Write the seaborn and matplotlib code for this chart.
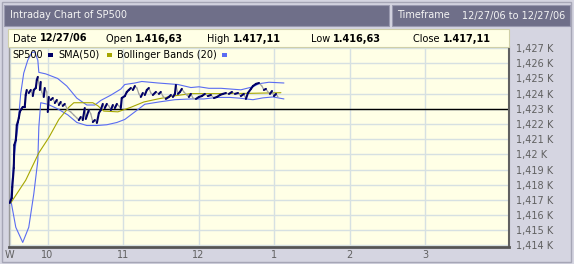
import numpy as np
import pandas as pd
import matplotlib
matplotlib.use("Agg")
import matplotlib.pyplot as plt
import seaborn as sns
from matplotlib.patches import Rectangle

# ---------------- data ----------------
# minutes after 9:30 and SP500 price
price_min = [0.0, 0.8, 1.6, 2.0, 3.2, 3.6, 4.8, 5.6, 6.4, 7.2, 8.0, 8.7, 10.3, 11.9,
             12.7, 13.5, 15.1, 16.7, 18.3, 19.1, 20.7, 21.5, 22.3, 23.1, 23.9, 24.6,
             25.4, 27.0, 27.8, 29.4, 30.2, 31.0, 32.6, 34.2, 35.8, 37.4, 39.0, 40.5,
             42.1, 43.7, 46.1, 48.5, 50.9, 53.3, 54.9, 56.4, 58.0, 59.6, 60.4, 62.8,
             64.4, 66.0, 67.6, 69.2, 70.8, 72.3, 73.9, 75.5, 77.1, 78.7, 80.3, 81.9,
             83.5, 85.1, 86.7, 88.2, 89.0, 91.4, 93.0, 94.6, 96.2, 97.8, 99.4, 101.0,
             102.6, 104.1, 105.7, 107.3, 108.9, 110.5, 112.1, 113.7, 116.1, 118.5,
             120.0, 121.6, 124.0, 126.4, 128.0, 129.6, 131.2, 132.0, 133.6, 135.2,
             136.7, 138.3, 140.7, 142.3, 143.9, 145.5, 147.9, 150.3, 152.6, 155.0,
             157.4, 159.8, 162.2, 164.6, 167.0, 169.3, 171.7, 174.1, 176.5, 178.9,
             181.3, 183.6, 186.0, 187.6, 189.2, 191.6, 193.2, 195.6, 198.0, 200.3,
             201.9, 203.5, 205.1, 206.7, 208.3, 209.9, 211.5, 213.1]
price_val = [1416.80, 1416.99, 1417.12, 1417.85, 1419.10, 1420.61, 1420.94, 1421.93,
             1422.13, 1422.40, 1422.79, 1422.92, 1423.12, 1423.12, 1423.91, 1424.24,
             1424.04, 1424.24, 1423.84, 1424.24, 1424.37, 1424.90, 1425.10, 1424.70,
             1424.24, 1424.77, 1424.11, 1423.78, 1424.37, 1424.11, 1422.79, 1423.78,
             1423.58, 1423.71, 1423.38, 1423.58, 1423.25, 1423.45, 1423.19, 1423.32,
             1422.92, 1422.79, 1422.59, 1422.40, 1422.26, 1422.46, 1422.26, 1423.05,
             1422.33, 1422.92, 1422.66, 1422.13, 1422.26, 1422.07, 1422.72, 1422.92,
             1423.32, 1423.05, 1423.32, 1423.19, 1422.92, 1423.25, 1423.05, 1423.32,
             1423.19, 1423.05, 1423.71, 1423.84, 1424.11, 1424.24, 1424.37, 1424.24,
             1424.50, 1424.37, 1423.98, 1423.78, 1424.04, 1423.91, 1424.24, 1424.37,
             1424.04, 1423.91, 1424.11, 1423.98, 1424.11, 1423.84, 1423.65, 1423.78,
             1423.91, 1423.78, 1423.98, 1424.57, 1423.98, 1424.11, 1424.31, 1424.11,
             1423.91, 1423.78, 1423.98, 1423.71, 1423.65, 1423.78, 1423.84, 1423.98,
             1423.84, 1423.91, 1423.71, 1423.78, 1423.91, 1423.98, 1424.04, 1423.98,
             1424.11, 1423.98, 1424.04, 1423.84, 1423.98, 1423.65, 1424.04, 1424.31,
             1424.50, 1424.64, 1424.70, 1424.50, 1424.24, 1424.31, 1424.11, 1423.98,
             1424.17, 1423.84, 1423.98, 1423.78]

sma_min = [0.8, 12.7, 23.1, 31.0, 39.0, 46.9, 50.9, 66.0, 70.0, 74.7, 85.9, 96.2,
           106.5, 117.7, 130.4, 143.9, 167.8, 191.6, 215.4]
sma_val = [1416.80, 1418.30, 1420.10, 1421.10, 1422.30, 1423.10, 1423.40, 1423.40,
           1423.20, 1422.85, 1422.80, 1423.10, 1423.45, 1423.65, 1423.85, 1424.00,
           1424.00, 1424.02, 1424.06]

bb_up_min = [0.8, 3.2, 6.4, 8.7, 11.1, 14.3, 17.5, 19.9, 22.3, 23.1, 28.6, 38.0,
             45.3, 53.3, 61.2, 67.6, 72.3, 80.3, 88.2, 91.4, 99.4, 104.9, 117.7,
             133.6, 143.9, 150.3, 158.2, 167.8, 175.7, 183.6, 193.2, 197.9, 205.9, 217.8]
bb_up_val = [1417.00, 1419.60, 1421.80, 1424.00, 1425.35, 1426.20, 1426.70, 1426.75,
             1426.20, 1425.40, 1425.30, 1425.00, 1424.50, 1423.70, 1423.25, 1423.25,
             1423.55, 1423.90, 1424.30, 1424.60, 1424.70, 1424.80, 1424.70, 1424.60,
             1424.40, 1424.45, 1424.35, 1424.35, 1424.30, 1424.25, 1424.45, 1424.65,
             1424.75, 1424.70]
bb_lo_min = [0.8, 4.8, 10.3, 15.1, 19.1, 22.3, 23.1, 24.6, 30.2, 38.0, 46.1, 53.3,
             61.2, 69.2, 77.1, 85.1, 91.4, 99.4, 107.3, 118.5, 131.2, 143.9, 154.2,
             164.6, 174.9, 182.8, 187.6, 193.2, 201.1, 209.1, 217.8]
bb_lo_val = [1417.00, 1415.20, 1414.20, 1415.20, 1417.40, 1419.60, 1421.80, 1423.40,
             1423.30, 1423.00, 1422.60, 1422.10, 1421.90, 1421.90, 1421.95, 1422.10,
             1422.30, 1422.80, 1423.30, 1423.45, 1423.60, 1423.65, 1423.65, 1423.75,
             1423.75, 1423.70, 1423.65, 1423.60, 1423.72, 1423.78, 1423.65]

ref_level = 1423.0
y_ticks = [1414, 1415, 1416, 1417, 1418, 1419, 1420, 1421, 1422, 1423, 1424, 1425, 1426, 1427]
y_tick_labels = ["1,414 K", "1,415 K", "1,416 K", "1,417 K", "1,418 K", "1,419 K", "1,42 K",
                 "1,421 K", "1,422 K", "1,423 K", "1,424 K", "1,425 K", "1,426 K", "1,427 K"]
x_ticks = [9.5, 10, 11, 12, 13, 14, 15]
x_tick_labels = ["W", "10", "11", "12", "1", "2", "3"]

title_text = "Intraday Chart of SP500"
timeframe_label = "Timeframe"
timeframe_text = "12/27/06 to 12/27/06"
info_labels = ["Date", "Open", "High", "Low", "Close"]
info_values = ["12/27/06", "1.416,63", "1.417,11", "1.416,63", "1.417,11"]
legend_labels = ["SP500", "SMA(50)", "Bollinger Bands (20)"]

# ---------------- style ----------------
BG = "#d5d5e1"
BAR = "#6f6f89"
CREAM = "#ffffe6"
NAVY = "#000066"
GRAYLINE = "#a0a0a0"
OLIVE = "#a6a600"
BBLUE = "#5a6cf2"
GRID = "#d6e0e2"
TXT = "#606060"

sns.set_theme(style="white")
plt.rcParams["font.family"] = ["DejaVu Sans"]

W, H = 574, 264
fig = plt.figure(figsize=(W / 100, H / 100), dpi=100, facecolor=BG)


def fx(px):
    return px / W


def fy(py):
    return 1 - py / H


def frect(x0, y0, x1, y1, **kw):
    fig.patches.append(Rectangle((fx(x0), fy(y1)), fx(x1) - fx(x0), fy(y0) - fy(y1),
                                 transform=fig.transFigure, figure=fig, **kw))


# outer frame
frect(2, 2, 571, 262, facecolor="none", edgecolor="#a6a6b6", lw=1)
# title bars
frect(4, 5, 389, 26, facecolor=BAR, edgecolor="#9a9ab0", lw=0.8)
frect(392, 5, 570, 26, facecolor=BAR, edgecolor="#9a9ab0", lw=0.8)
fig.text(fx(10), fy(15.5), title_text, color="#f4f4f4", fontsize=7, va="center", ha="left")
fig.text(fx(397), fy(15.5), timeframe_label, color="#f4f4f4", fontsize=7, va="center", ha="left")
fig.text(fx(462), fy(15.5), timeframe_text, color="#f4f4f4", fontsize=7, va="center", ha="left")
# info box
frect(8, 29, 509, 47, facecolor=CREAM, edgecolor="#cfcfa8", lw=0.8)
info_x = [13, 106, 207, 311, 413]

# ---------------- main axes ----------------
ax = fig.add_axes([fx(9), fy(247), fx(509) - fx(9), fy(47) - fy(247)])
ax.set_facecolor(CREAM)

t_price = [9.5 + m / 60 for m in price_min]
rows = []
for i in range(len(price_val) - 1):
    d = "up" if price_val[i + 1] >= price_val[i] else "down"
    rows.append((i, d, t_price[i], price_val[i]))
    rows.append((i, d, t_price[i + 1], price_val[i + 1]))
seg_df = pd.DataFrame(rows, columns=["seg", "dir", "t", "v"])

ax.axhline(ref_level, color="black", lw=1.0, zorder=2)

sma_df = pd.DataFrame({"t": [9.5 + m / 60 for m in sma_min], "v": sma_val})
up_df = pd.DataFrame({"t": [9.5 + m / 60 for m in bb_up_min], "v": bb_up_val})
lo_df = pd.DataFrame({"t": [9.5 + m / 60 for m in bb_lo_min], "v": bb_lo_val})

sns.lineplot(data=up_df, x="t", y="v", color=BBLUE, lw=0.8, ax=ax, sort=False, zorder=3)
sns.lineplot(data=lo_df, x="t", y="v", color=BBLUE, lw=0.8, ax=ax, sort=False, zorder=3)
sns.lineplot(data=sma_df, x="t", y="v", color=OLIVE, lw=0.8, ax=ax, sort=False, zorder=3)
sns.lineplot(data=seg_df[seg_df["dir"] == "down"], x="t", y="v", units="seg", estimator=None,
             color=GRAYLINE, lw=0.9, ax=ax, sort=False, zorder=4)
sns.lineplot(data=seg_df[seg_df["dir"] == "up"], x="t", y="v", units="seg", estimator=None,
             color=NAVY, lw=1.5, ax=ax, sort=False, zorder=5)

ax.set_xlim(9.49, 16.11)
ax.set_ylim(1413.9, 1427.07)
ax.set_yticks(y_ticks)
ax.set_yticklabels(y_tick_labels)
ax.set_xticks(x_ticks)
ax.set_xticklabels(x_tick_labels)
ax.yaxis.tick_right()
ax.tick_params(axis="y", length=0, pad=5, labelcolor=TXT, labelsize=7)
ax.tick_params(axis="x", length=0, pad=2.5, labelcolor=TXT, labelsize=7)
ax.set_xlabel("")
ax.set_ylabel("")
ax.grid(True, color=GRID, lw=1.0, zorder=0)
ax.set_axisbelow(True)
ax.spines["top"].set_visible(False)
ax.spines["left"].set_color("#9a9a9a")
ax.spines["left"].set_linewidth(1.0)
ax.spines["right"].set_color("#606060")
ax.spines["right"].set_linewidth(1.5)
ax.spines["bottom"].set_color("#555555")
ax.spines["bottom"].set_linewidth(2.0)

# legend row inside the plot
leg_y = fy(54.5)
fig.text(fx(12), leg_y, legend_labels[0], color="black", fontsize=7, va="center", ha="left", zorder=10)
frect(48, 52.5, 53, 56.5, facecolor=NAVY, edgecolor="none", zorder=10)
fig.text(fx(58), leg_y, legend_labels[1], color="black", fontsize=7, va="center", ha="left", zorder=10)
frect(107, 52.5, 112, 56.5, facecolor=OLIVE, edgecolor="none", zorder=10)
fig.text(fx(117), leg_y, legend_labels[2], color="black", fontsize=7, va="center", ha="left", zorder=10)
frect(222, 52.5, 227, 56.5, facecolor=BBLUE, edgecolor="none", zorder=10)

# info row: label normal + value bold
fig.canvas.draw()
renderer = fig.canvas.get_renderer()
for xx, lab, val in zip(info_x, info_labels, info_values):
    t1 = fig.text(fx(xx), fy(38.5), lab + " ", color="black", fontsize=7, va="center", ha="left")
    bb = t1.get_window_extent(renderer=renderer)
    fig.text(bb.x1 / W, fy(38.5), val, color="black", fontsize=7, fontweight="bold",
             va="center", ha="left")

fig.savefig("out.png", dpi=100, facecolor=BG)
